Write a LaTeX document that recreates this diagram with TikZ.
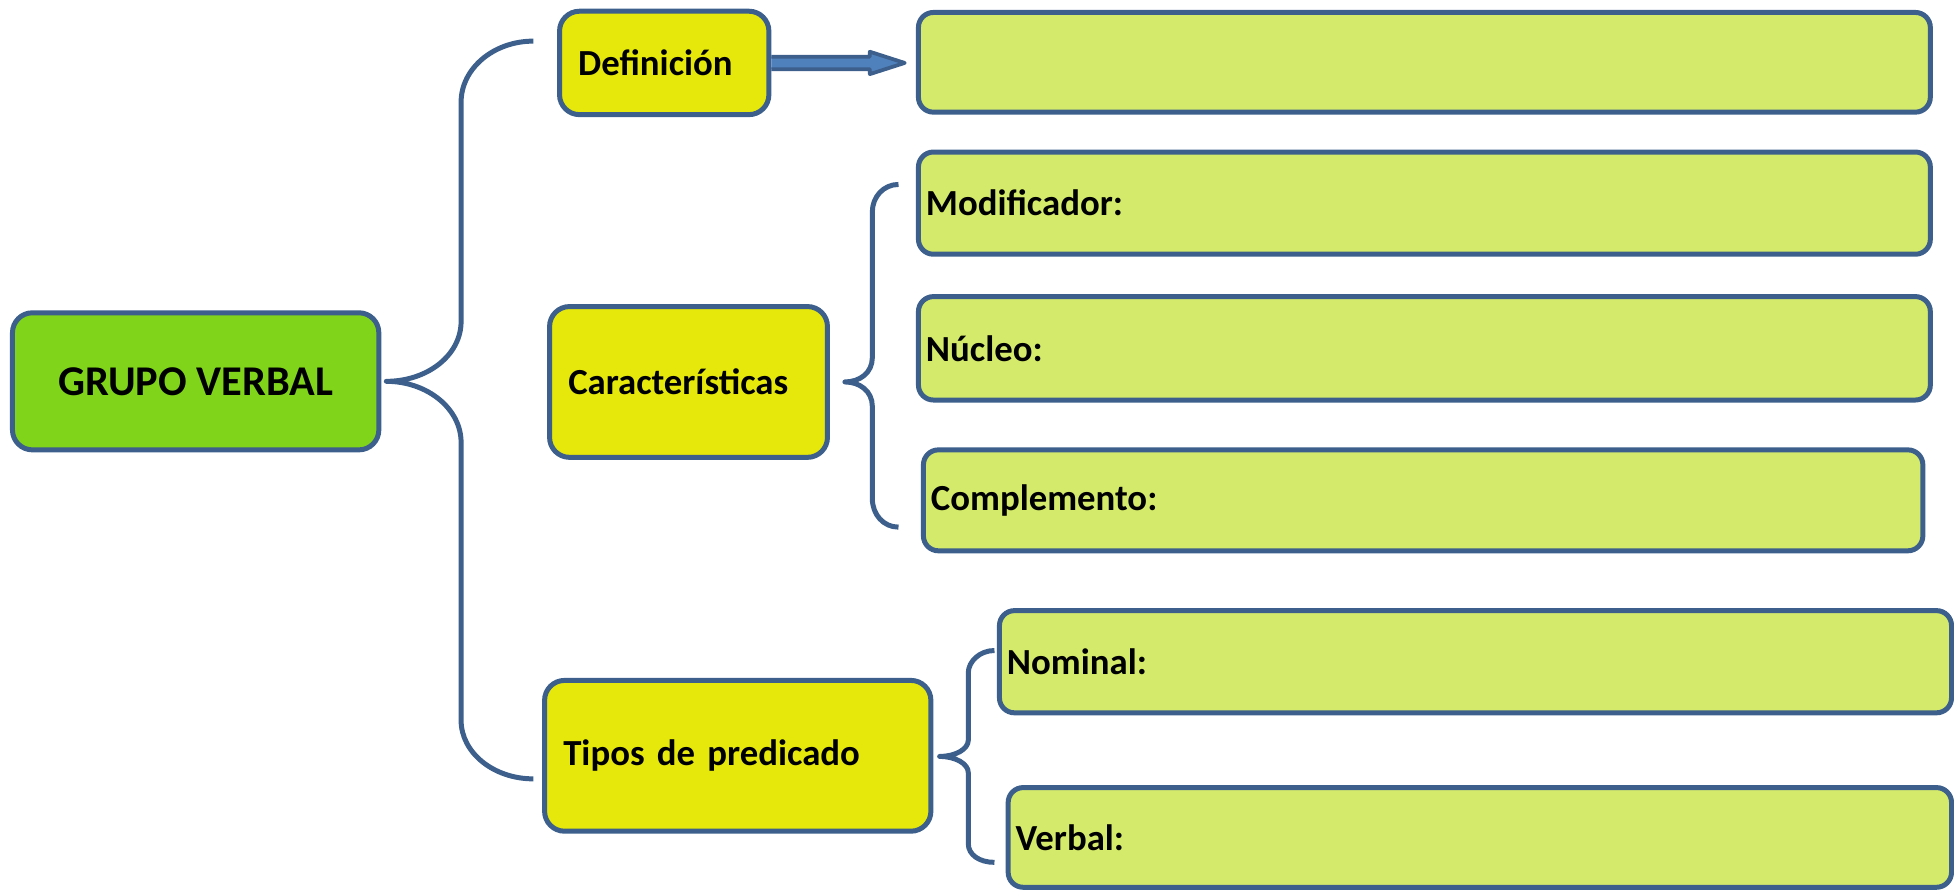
\documentclass[tikz,border=0pt]{standalone}
\usepackage{fontspec}
\setmainfont{Carlito}
\usepackage{tikz}
\usetikzlibrary{positioning}
\definecolor{edgeblue}{RGB}{60,95,140}
\definecolor{rootgreen}{RGB}{128,212,26}
\definecolor{topicyellow}{RGB}{229,232,10}
\definecolor{answergreen}{RGB}{212,234,107}
\definecolor{arrowblue}{RGB}{79,129,189}
\tikzstyle{root}=[rectangle,rounded corners=16pt,draw=edgeblue,fill=rootgreen,line width=4pt,font=\fontsize{34}{40}\selectfont\bfseries]
\tikzstyle{topic}=[rectangle,rounded corners=16pt,draw=edgeblue,fill=topicyellow,line width=4pt,inner xsep=15pt,align=left,font=\fontsize{29.5}{35}\selectfont\bfseries]
\tikzstyle{answer}=[rectangle,rounded corners=12pt,draw=edgeblue,fill=answergreen,line width=4pt,inner xsep=6pt,align=left,font=\fontsize{29.5}{35}\selectfont\bfseries]
\tikzstyle{brace}=[draw=edgeblue,line width=4pt,line join=round]
\tikzstyle{arrow}=[draw=edgeblue,fill=arrowblue,line width=3pt,line join=round]

\begin{document}
\begin{tikzpicture}[x=1pt,y=-1pt]
        \useasboundingbox (0,0) rectangle (1568,714);
        \node[root,minimum width=294pt,minimum height=110pt] at (157,306) (gv) {GRUPO VERBAL};
        \node[topic,minimum width=168pt,minimum height=83pt,text width=138pt] at (533,50.5) (def) {Definición};
        \node[topic,minimum width=223pt,minimum height=121pt,text width=193pt] at (552.5,306.5) (car) {Características};
        \node[topic,minimum width=310pt,minimum height=121pt,text width=280pt] at (592,606.5) (tip) {Tipos de predicado};
        \node[answer,minimum width=812pt,minimum height=80pt] at (1143,50) (defbox) {};
        \node[answer,minimum width=812pt,minimum height=82pt,text width=800pt] at (1143,163) (mod) {Modificador:};
        \node[answer,minimum width=812pt,minimum height=83pt,text width=800pt] at (1143,279.5) (nuc) {Núcleo:};
        \node[answer,minimum width=802pt,minimum height=81pt,text width=790pt] at (1142,401.5) (com) {Complemento:};
        \node[answer,minimum width=764pt,minimum height=82pt,text width=752pt] at (1184,531) (nom) {Nominal:};
        \node[answer,minimum width=757pt,minimum height=80pt,text width=745pt] at (1187.5,672) (ver) {Verbal:};
        \coordinate (gvtip) at (310,306);
        \coordinate (cartip) at (678,306.5);
        \coordinate (tiptip) at (754,607);
        \coordinate (arrowend) at (726,50.5);
        % block arrow to the empty box
        \draw[arrow] ([yshift=5pt]def.east) -- ([xshift=-28pt,yshift=5pt]arrowend) -- ([xshift=-28pt,yshift=9pt]arrowend)
          -- (arrowend) -- ([xshift=-28pt,yshift=-9pt]arrowend) -- ([xshift=-28pt,yshift=-5pt]arrowend) -- ([yshift=-5pt]def.east);
        \draw[brace] (428,33) .. controls (396,33) and (370,55) .. (370,82) -- (370,258)
          .. controls (370,285) and (343,306) .. (gvtip)
          .. controls (343,306) and (370,328) .. (370,355) -- (370,578)
          .. controls (370,604) and (396,625) .. (428,625);
        \draw[brace] (721,148) .. controls (709,148) and (700,158) .. (700,170) -- (700,287)
          .. controls (700,299) and (690,306.5) .. (cartip)
          .. controls (690,306.5) and (700,314) .. (700,326) -- (700,400)
          .. controls (700,413) and (709,423) .. (721,423);
        \draw[brace] (798,522) .. controls (786,522) and (777,531) .. (777,540) -- (777,594)
          .. controls (777,601) and (767,607) .. (tiptip)
          .. controls (767,607) and (777,613) .. (777,620) -- (777,677)
          .. controls (777,686) and (786,692) .. (798,692);
      \end{tikzpicture}
\end{document}
